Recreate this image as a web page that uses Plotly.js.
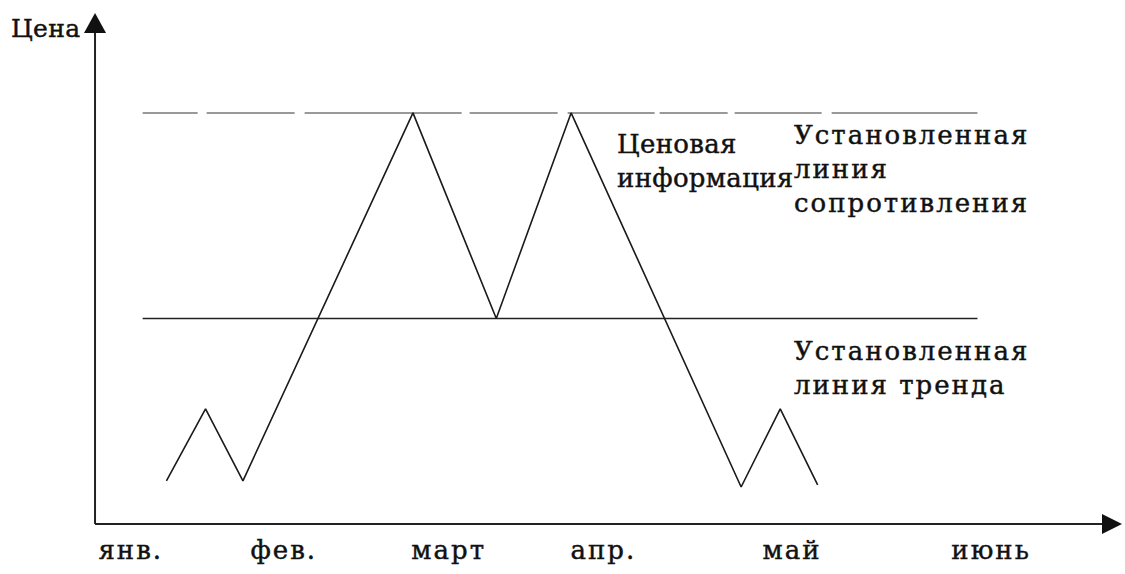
<!DOCTYPE html>
<html>
<head>
<meta charset="utf-8">
<script src="https://cdn.plot.ly/plotly-3.0.1.min.js"></script>
<style>
  html, body { margin: 0; padding: 0; background: #fff; }
  #chart { width: 1125px; height: 574px; }
  .xtick text, .annotation-text { letter-spacing: 2px; stroke: #111; stroke-width: 0.45px; }
  .annotation[data-index="0"] .annotation-text,
  .annotation[data-index="1"] .annotation-text { letter-spacing: 0.3px; }
</style>
</head>
<body>
<div id="chart"></div>
<script>
// Time axis: months, one unit per month
const months = ['янв.', 'фев.', 'март', 'апр.', 'май', 'июнь'];
const monthPos = [0.21, 1.11, 2.08, 2.99, 4.10, 5.27];

// Price path (schematic "double top")
const priceX = [0.42, 0.65, 0.87, 1.87, 2.36, 2.80, 3.80, 4.03, 4.25];
const priceY = [10.5, 28, 10.5, 100, 50, 100, 9, 28, 9.5];

// Established levels
const resistanceLevel = 100;
const supportLevel = 50;
const levelStart = 0.28;
const levelEnd = 5.19;

// Axis extents (origin at 0,0; a little room left/below for arrowheads and title)
const xMax = 6.04;
const yMax = 124.3;
const pxX = 170;    // pixels per month
const pxY = 4.11;   // pixels per price unit
const dx = p => p / pxX;
const dy = p => p / pxY;
const xMin = -dx(95);
const yMin = -dy(14);

const W = 1125, H = 574;
const M = { l: 0, r: W - 95 - Math.round(xMax * pxX), t: 13, b: H - 524 - 14 };

const ink = '#111';
const serif = 'DejaVu Serif';
const fontSize = 26;

const traces = [
  {
    x: [levelStart, levelEnd], y: [resistanceLevel, resistanceLevel],
    mode: 'lines', hoverinfo: 'skip',
    line: { color: '#999', width: 2,
            dash: '55px,9px,88px,10px,157px,8px,88px,10px,87px,5px,68px,7px,87px,10px,146px,40px' }
  },
  {
    x: [levelStart, levelEnd], y: [supportLevel, supportLevel],
    mode: 'lines', hoverinfo: 'skip',
    line: { color: '#222', width: 1.6 }
  },
  {
    x: priceX, y: priceY,
    mode: 'lines', hoverinfo: 'skip',
    line: { color: '#1a1a1a', width: 1.6 }
  }
];

// Axes with arrowheads
const shapes = [
  { type: 'line', xref: 'x', yref: 'y', x0: 0, y0: 0, x1: 0, y1: yMax - dy(16),
    line: { color: '#222', width: 2 } },
  { type: 'line', xref: 'x', yref: 'y', x0: 0, y0: 0, x1: xMax - dx(16), y1: 0,
    line: { color: '#222', width: 2 } },
  { type: 'path', xref: 'x', yref: 'y', fillcolor: '#111', line: { width: 0 },
    path: `M ${-dx(11)} ${yMax - dy(20)} L ${dx(11)} ${yMax - dy(20)} L 0 ${yMax} Z` },
  { type: 'path', xref: 'x', yref: 'y', fillcolor: '#111', line: { width: 0 },
    path: `M ${xMax - dx(20)} ${dy(10)} L ${xMax - dx(20)} ${-dy(10)} L ${xMax} 0 Z` }
];

const txt = (text, x, y, xanchor, yanchor, size) => ({
  text, x, y, xref: 'x', yref: 'y', xanchor, yanchor, align: 'left',
  showarrow: false, font: { family: serif, size: size || fontSize, color: ink }
});

const annotations = [
  txt('Цена', -dx(6), yMax - dy(15), 'right', 'middle', 25),
  txt('Ценовая<br>информация', 3.06, 96.6, 'left', 'top'),
  txt('Установленная<br>линия<br>сопротивления', 4.10, 98.8, 'left', 'top'),
  txt('Установленная<br>линия тренда', 4.10, 46.3, 'left', 'top')
];

const layout = {
  width: W, height: H,
  margin: M,
  paper_bgcolor: '#fff', plot_bgcolor: '#fff',
  showlegend: false,
  font: { family: serif },
  xaxis: {
    range: [xMin, xMax], showgrid: false, zeroline: false, showline: false,
    tickmode: 'array', tickvals: monthPos, ticktext: months,
    ticks: '', ticklabelstandoff: -6,
    tickfont: { family: serif, size: fontSize, color: ink }
  },
  yaxis: {
    range: [yMin, yMax], showgrid: false, zeroline: false, showline: false,
    showticklabels: false, ticks: ''
  },
  shapes, annotations
};

Plotly.newPlot('chart', traces, layout, { staticPlot: true, displayModeBar: false });
</script>
</body>
</html>
